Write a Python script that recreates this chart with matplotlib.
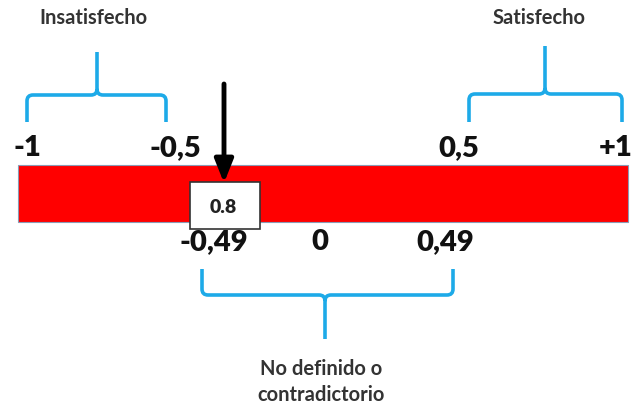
import matplotlib
matplotlib.use('Agg')
import matplotlib.pyplot as plt
from matplotlib.path import Path
from matplotlib.patches import PathPatch, Rectangle

# scale labels above and below the bar
top_labels = ['-1', '-0,5', '0,5', '+1']
top_x = [27, 175, 459, 616]
bottom_labels = ['-0,49', '0', '0,49']
bottom_x = [214, 320, 445]

# groups (brace text)
group_names = ['Insatisfecho', 'Satisfecho', 'No definido o\ncontradictorio']

# result marker
value_text = '0.8'
value_x = 224

FONT = 'Lato'
BLUE = '#1DAAE8'

fig = plt.figure(figsize=(6.32, 4.06), dpi=100)
ax = fig.add_axes([0, 0, 1, 1])
ax.set_xlim(0, 632)
ax.set_ylim(406, 0)
ax.axis('off')


def brace(x0, x1, xs, y_tip, y_mid, y_stem, r=6):
    # sign: +1 if the stem goes up (tips below), -1 otherwise
    s = 1 if y_stem < y_mid else -1
    verts = [(x0, y_tip), (x0, y_mid + s * r), (x0, y_mid), (x0 + r, y_mid),
             (xs - r, y_mid), (xs, y_mid), (xs, y_mid - s * r),
             (xs, y_stem),
             (xs, y_mid - s * r), (xs, y_mid), (xs + r, y_mid),
             (x1 - r, y_mid), (x1, y_mid), (x1, y_mid + s * r), (x1, y_tip)]
    codes = [Path.MOVETO, Path.LINETO, Path.CURVE3, Path.CURVE3,
             Path.LINETO, Path.CURVE3, Path.CURVE3,
             Path.LINETO,
             Path.MOVETO, Path.CURVE3, Path.CURVE3,
             Path.LINETO, Path.CURVE3, Path.CURVE3, Path.LINETO]
    ax.add_patch(PathPatch(Path(verts, codes), fill=False, edgecolor=BLUE,
                           lw=2.6, capstyle='butt', joinstyle='round'))


# red bar
ax.add_patch(Rectangle((18, 166), 610, 57, facecolor='#FF0000',
                       edgecolor='#8A9BB5', lw=0.8))

# labels
for t, x in zip(top_labels, top_x):
    ax.text(x, 148, t, ha='center', va='center', fontsize=21,
            fontweight='heavy', family=FONT, color='#111111')
for t, x in zip(bottom_labels, bottom_x):
    ax.text(x, 242, t, ha='center', va='center', fontsize=21,
            fontweight='heavy', family=FONT, color='#111111')

# braces
brace(27, 166, 97, 123, 96, 53)
brace(469, 622, 545, 123, 95, 47)
brace(202, 453, 325, 270, 296, 340)

ax.text(93, 18, group_names[0], ha='center', va='center', fontsize=14.5,
        fontweight='bold', family=FONT, color='#333333')
ax.text(539, 18, group_names[1], ha='center', va='center', fontsize=14.5,
        fontweight='bold', family=FONT, color='#333333')
ax.text(321, 382, group_names[2], ha='center', va='center', fontsize=14.5,
        fontweight='bold', family=FONT, color='#333333', linespacing=1.35)

# arrow and value box
ax.annotate('', xy=(value_x, 184), xytext=(value_x, 85),
            arrowprops=dict(arrowstyle='-|>,head_width=0.28,head_length=0.7',
                            color='black', lw=3.5,
                            mutation_scale=20, shrinkA=0, shrinkB=0))
ax.add_patch(Rectangle((190, 183), 70, 47, facecolor='white',
                       edgecolor='#333333', lw=1.2, zorder=3))
ax.text(223, 208, value_text, ha='center', va='center', fontsize=14,
        fontweight='heavy', family=FONT, color='#222222', zorder=4)

fig.savefig('out.png', dpi=100)
